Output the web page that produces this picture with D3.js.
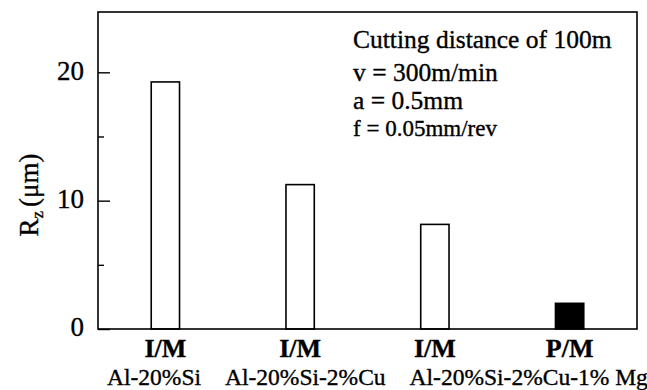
<!DOCTYPE html>
<html>
<head>
<meta charset="utf-8">
<script src="https://cdn.jsdelivr.net/npm/d3@7"></script>
<style>
  html, body { margin: 0; padding: 0; background: #fff; }
  svg { display: block; }
  text { font-family: "Liberation Serif", "Times New Roman", serif; fill: #000; stroke: #000; stroke-width: 0.35px; }
</style>
</head>
<body>
<svg id="chart" width="647" height="390"></svg>
<script>
// Surface roughness Rz after a 100 m cutting distance
const processes = ["I/M", "I/M", "I/M", "P/M"];
const alloyLabels = ["Al-20%Si", "Al-20%Si-2%Cu", "Al-20%Si-2%Cu-1% Mg"];
const rzValues = [19.25, 11.25, 8.15, 2.0];
const powderMetallurgy = [false, false, false, true];
const majorTicks = [0, 10, 20];
const minorTicks = [5, 15];
const conditions = [
  "Cutting distance of 100m",
  "v = 300m/min",
  "a = 0.5mm",
  "f = 0.05mm/rev"
];

const svg = d3.select("#chart");
const m = { left: 98, right: 637, top: 12, bottom: 329 };

const x = d3.scaleBand()
  .domain(d3.range(rzValues.length))
  .range([m.left, m.right])
  .paddingInner(0.79)
  .paddingOuter(0.395);

const y = d3.scaleLinear()
  .domain([0, 24.7])
  .range([m.bottom, m.top]);

// bars
svg.append("g").selectAll("rect")
  .data(rzValues)
  .join("rect")
  .attr("x", (d, i) => x(i))
  .attr("width", x.bandwidth())
  .attr("y", d => y(d))
  .attr("height", d => y(0) - y(d))
  .attr("fill", (d, i) => powderMetallurgy[i] ? "#000" : "#fff")
  .attr("stroke", "#000")
  .attr("stroke-width", 1.6);

// frame
svg.append("rect")
  .attr("x", m.left).attr("y", m.top)
  .attr("width", m.right - m.left).attr("height", m.bottom - m.top)
  .attr("fill", "none").attr("stroke", "#000").attr("stroke-width", 1.6);

// y axis: major ticks with labels, minor ticks without, all pointing inward
const yAxis = svg.append("g").attr("transform", `translate(${m.left},0)`)
  .call(d3.axisLeft(y).tickValues(majorTicks).tickSize(-12).tickPadding(14).tickFormat(d3.format("d")));
yAxis.select(".domain").remove();
yAxis.selectAll(".tick line").attr("stroke", "#000").attr("stroke-width", 1.4);
yAxis.selectAll(".tick text")
  .attr("font-size", 27)
  .attr("dy", "0.25em");

const yMinor = svg.append("g").attr("transform", `translate(${m.left},0)`)
  .call(d3.axisLeft(y).tickValues(minorTicks).tickSize(-6).tickFormat(""));
yMinor.select(".domain").remove();
yMinor.selectAll(".tick line").attr("stroke", "#000").attr("stroke-width", 1.4);

// y axis title: R with subscript z, then (μm)
const yTitle = svg.append("text")
  .attr("transform", `translate(38,195) rotate(-90)`)
  .attr("text-anchor", "middle")
  .attr("font-size", 27);
yTitle.append("tspan").text("R");
yTitle.append("tspan").attr("font-size", 17).attr("dy", 5).text("z");
yTitle.append("tspan").attr("dy", -5).attr("dx", 4).text("(μm)");

// process labels under each bar
svg.append("g").selectAll("text")
  .data(processes)
  .join("text")
  .attr("x", (d, i) => x(i) + x.bandwidth() / 2)
  .attr("y", 357)
  .attr("text-anchor", "middle")
  .attr("font-size", 26)
  .attr("font-weight", "bold")
  .text(d => d);

// alloy names on a single row, laid out left to right
const alloyRow = svg.append("g");
let cursor = 107;
alloyLabels.forEach(name => {
  const t = alloyRow.append("text")
    .attr("x", cursor)
    .attr("y", 385)
    .attr("font-size", 23.5)
    .text(name);
  cursor += t.node().getComputedTextLength() + 24;
});

// cutting conditions
const condSizes = [25.5, 25.5, 25.5, 23];
const condBaselines = [48, 81, 109, 136];
svg.append("g").selectAll("text")
  .data(conditions)
  .join("text")
  .attr("x", 353)
  .attr("y", (d, i) => condBaselines[i])
  .attr("font-size", (d, i) => condSizes[i])
  .text(d => d);
</script>
</body>
</html>
